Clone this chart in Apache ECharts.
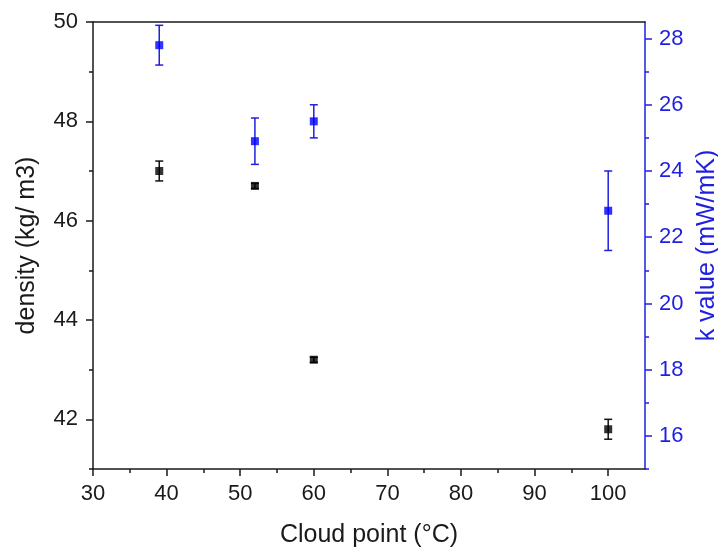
<!DOCTYPE html>
<html>
<head>
<meta charset="utf-8">
<script src="https://cdn.jsdelivr.net/npm/echarts@6/dist/echarts.min.js"></script>
<style>
html,body{margin:0;padding:0;background:#fff;}
#chart{width:718px;height:552px;}
</style>
</head>
<body>
<div id="chart"></div>
<script>
// ---- data ----
const cloudPoint = [39, 52, 60, 100];
const density = [47.0, 46.7, 43.2, 41.8];
const densityErr = [0.2, 0.05, 0.05, 0.2];
const kValue = [27.8, 24.9, 25.5, 22.8];
const kErr = [0.6, 0.7, 0.5, 1.2];

// ---- ticks ----
const xTicks = [30, 40, 50, 60, 70, 80, 90, 100];
const xMinorTicks = [35, 45, 55, 65, 75, 85, 95];
const leftTicks = [42, 44, 46, 48, 50];
const leftMinorTicks = [41, 43, 45, 47, 49];
const rightTicks = [16, 18, 20, 22, 24, 26, 28];
const rightMinorTicks = [15, 17, 19, 21, 23, 25, 27];

const FONT = 'Liberation Sans, Arial, sans-serif';
const BLACK = '#1a1a1a';
const BLUE = '#1f1fe0';
const TICK_FS = 22;
const NAME_FS = 25;

function errData(xs, ys, es) {
  return xs.map((x, i) => [x, ys[i] - es[i], ys[i] + es[i]]);
}
function errRender(color) {
  return function (params, api) {
    const x = api.value(0);
    const lo = api.coord([x, api.value(1)]);
    const hi = api.coord([x, api.value(2)]);
    const hw = 4;
    const style = { stroke: color, lineWidth: 1.5, fill: null };
    return {
      type: 'group',
      children: [
        { type: 'line', shape: { x1: lo[0], y1: lo[1], x2: hi[0], y2: hi[1] }, style: style },
        { type: 'line', shape: { x1: lo[0] - hw, y1: lo[1], x2: lo[0] + hw, y2: lo[1] }, style: style },
        { type: 'line', shape: { x1: hi[0] - hw, y1: hi[1], x2: hi[0] + hw, y2: hi[1] }, style: style }
      ]
    };
  };
}

const chart = echarts.init(document.getElementById('chart'), null, { renderer: 'canvas' });
const option = {
  animation: false,
  backgroundColor: '#ffffff',
  grid: { left: 93, right: 73, top: 22, bottom: 83, containLabel: false, outerBoundsMode: 'none' },
  xAxis: [
    {
      type: 'value', min: 30, max: 105, position: 'bottom',
      name: 'Cloud point (°C)', nameLocation: 'middle', nameGap: 54,
      nameTextStyle: { fontFamily: FONT, fontSize: NAME_FS, color: BLACK },
      axisLine: { show: true, onZero: false, lineStyle: { color: BLACK, width: 1.5 } },
      axisTick: { show: true, inside: false, length: 7, customValues: xTicks, lineStyle: { color: BLACK, width: 1.5 } },
      axisLabel: { customValues: xTicks, margin: 14, fontFamily: FONT, fontSize: TICK_FS, color: BLACK },
      splitLine: { show: false }
    },
    {
      type: 'value', min: 30, max: 105, position: 'bottom',
      axisLine: { show: false },
      axisTick: { show: true, inside: false, length: 4, customValues: xMinorTicks, lineStyle: { color: BLACK, width: 1.5 } },
      axisLabel: { show: false },
      splitLine: { show: false }
    },
    {
      type: 'value', min: 30, max: 105, position: 'top',
      axisLine: { show: true, onZero: false, lineStyle: { color: BLACK, width: 1.5 } },
      axisTick: { show: false }, axisLabel: { show: false }, splitLine: { show: false }
    }
  ],
  yAxis: [
    {
      type: 'value', min: 41, max: 50, position: 'left',
      name: 'density (kg/ m3)', nameLocation: 'middle', nameGap: 53, nameRotate: 90,
      nameTextStyle: { fontFamily: FONT, fontSize: NAME_FS, color: BLACK },
      axisLine: { show: true, onZero: false, lineStyle: { color: BLACK, width: 1.5 } },
      axisTick: { show: true, inside: false, length: 7, customValues: leftTicks, lineStyle: { color: BLACK, width: 1.5 } },
      axisLabel: { customValues: leftTicks, margin: 15, fontFamily: FONT, fontSize: TICK_FS, color: BLACK },
      splitLine: { show: false }
    },
    {
      type: 'value', min: 15, max: 28.5, position: 'right',
      name: 'k value (mW/mK)', nameLocation: 'middle', nameGap: 48, nameRotate: 90,
      nameTextStyle: { fontFamily: FONT, fontSize: NAME_FS, color: BLUE },
      axisLine: { show: true, onZero: false, lineStyle: { color: BLUE, width: 1.5 } },
      axisTick: { show: true, inside: false, length: 7, customValues: rightTicks, lineStyle: { color: BLUE, width: 1.5 } },
      axisLabel: { customValues: rightTicks, margin: 14, fontFamily: FONT, fontSize: TICK_FS, color: BLUE },
      splitLine: { show: false }
    },
    {
      type: 'value', min: 41, max: 50, position: 'left',
      axisLine: { show: false },
      axisTick: { show: true, inside: false, length: 4, customValues: leftMinorTicks, lineStyle: { color: BLACK, width: 1.5 } },
      axisLabel: { show: false }, splitLine: { show: false }
    },
    {
      type: 'value', min: 15, max: 28.5, position: 'right',
      axisLine: { show: false },
      axisTick: { show: true, inside: false, length: 4, customValues: rightMinorTicks, lineStyle: { color: BLUE, width: 1.5 } },
      axisLabel: { show: false }, splitLine: { show: false }
    }
  ],
  series: [
    {
      type: 'custom', name: 'density err', xAxisIndex: 0, yAxisIndex: 0,
      renderItem: errRender('#111111'),
      encode: { x: 0, y: [1, 2] },
      data: errData(cloudPoint, density, densityErr), z: 2
    },
    {
      type: 'scatter', name: 'density', xAxisIndex: 0, yAxisIndex: 0,
      symbol: 'rect', symbolSize: 8,
      itemStyle: { color: '#000000' },
      data: cloudPoint.map((x, i) => [x, density[i]]), z: 3
    },
    {
      type: 'custom', name: 'k err', xAxisIndex: 0, yAxisIndex: 1,
      renderItem: errRender(BLUE),
      encode: { x: 0, y: [1, 2] },
      data: errData(cloudPoint, kValue, kErr), z: 2
    },
    {
      type: 'scatter', name: 'k value', xAxisIndex: 0, yAxisIndex: 1,
      symbol: 'rect', symbolSize: 8,
      itemStyle: { color: '#0000ff' },
      data: cloudPoint.map((x, i) => [x, kValue[i]]), z: 3
    }
  ]
};
chart.setOption(option);
</script>
</body>
</html>
